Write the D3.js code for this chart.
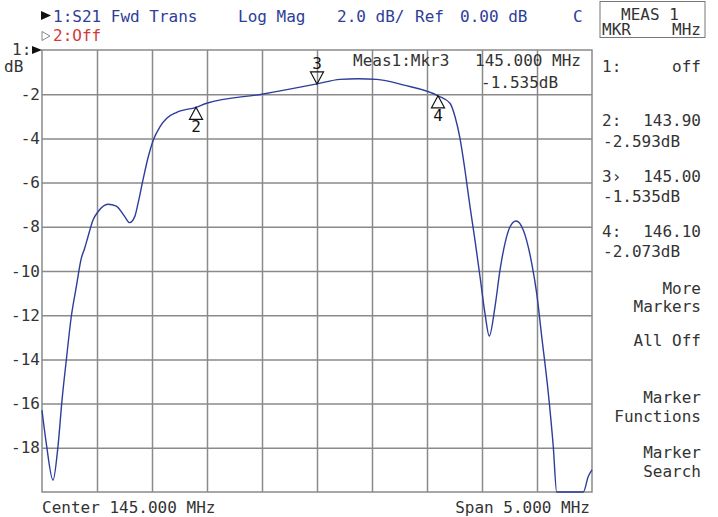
<!DOCTYPE html>
<html>
<head>
<meta charset="utf-8">
<script src="https://cdn.jsdelivr.net/npm/d3@7"></script>
<style>
  body { margin: 0; background: #fff; }
  svg { display: block; }
  text { font-family: "DejaVu Sans Mono", "Liberation Mono", monospace; font-size: 16px; }
</style>
</head>
<body>
<svg id="vna" width="718" height="517"></svg>
<script>
// trace S21 (MHz, dB)
const freqMHz = [142.500, 142.539, 142.600, 142.645, 142.682, 142.721, 142.766, 142.812, 142.857, 142.888,
  142.918, 142.964, 143.009, 143.100, 143.175, 143.252, 143.297, 143.343, 143.373, 143.418,
  143.466, 143.512, 143.573, 143.634, 143.725, 143.900, 143.997, 144.512, 145.000, 145.209,
  145.373, 145.543, 145.782, 146.100, 146.209, 146.255, 146.300, 146.345, 146.391, 146.436,
  146.482, 146.527, 146.566, 146.618, 146.664, 146.709, 146.755, 146.809, 146.875, 146.952,
  146.997, 147.043, 147.103, 147.148, 147.179, 147.421, 147.466, 147.500];
const s21dB = [-16.3, -17.8, -19.46, -17.95, -15.84, -14.03, -12.07, -10.71, -9.43, -8.97,
  -8.45, -7.69, -7.32, -6.98, -7.06, -7.54, -7.81, -7.54, -6.94, -5.88,
  -4.83, -4.07, -3.47, -3.09, -2.82, -2.593, -2.41, -1.99, -1.535, -1.33,
  -1.30, -1.33, -1.58, -2.073, -2.41, -3.02, -4.0, -5.43, -7.09, -8.6,
  -10.26, -11.92, -12.94, -11.62, -9.95, -8.75, -8.0, -7.74, -8.14, -9.65,
  -11.0, -12.97, -15.54, -17.95, -20.3, -20.3, -19.3, -19.0];

const yTicks = [-2, -4, -6, -8, -10, -12, -14, -16, -18];
const xGrid = [143.0, 143.5, 144.0, 144.5, 145.0, 145.5, 146.0, 146.5, 147.0];

const markerIds = ["2", "3", "4"];
const markerFreqs = [143.90, 145.00, 146.10];
const markerVals = [-2.593, -1.535, -2.073];
const activeMarker = "3";

const margin = {top: 50, right: 126, bottom: 25, left: 42},
  width = 718 - margin.left - margin.right,
  height = 517 - margin.top - margin.bottom;

const svg = d3.select("#vna");
const g = svg.append("g")
  .attr("transform", "translate(" + margin.left + "," + margin.top + ")");

const x = d3.scaleLinear().domain([142.5, 147.5]).range([0, width]);
const y = d3.scaleLinear().domain([-20, 0]).range([height, 0]).clamp(true);

const gridColor = "#8a8a8a";
const blue = "#2e3d9a";

// horizontal grid + labels
const yAxis = g.append("g")
  .call(d3.axisLeft(y).tickValues(yTicks).tickSize(-width).tickPadding(2).tickFormat(d => String(d)));
yAxis.select(".domain").remove();
yAxis.selectAll(".tick line").attr("stroke", gridColor).attr("stroke-width", 1.5);
yAxis.selectAll(".tick text")
  .attr("fill", "#333")
  .style("font-size", "16px")
  .style("font-family", "DejaVu Sans Mono, monospace");

// vertical grid
const xAxis = g.append("g")
  .attr("transform", "translate(0," + height + ")")
  .call(d3.axisBottom(x).tickValues(xGrid).tickSize(-height).tickFormat(""));
xAxis.select(".domain").remove();
xAxis.selectAll(".tick line").attr("stroke", gridColor).attr("stroke-width", 1.5);

g.append("rect")
  .attr("x", 0).attr("y", 0)
  .attr("width", width).attr("height", height)
  .attr("fill", "none")
  .attr("stroke", gridColor)
  .attr("stroke-width", 1.5);

// trace
const trace = d3.zip(freqMHz, s21dB);
const line = d3.line()
  .x(d => x(d[0]))
  .y(d => y(d[1]))
  .curve(d3.curveMonotoneX);

g.append("path")
  .datum(trace)
  .attr("d", line)
  .attr("fill", "none")
  .attr("stroke", blue)
  .attr("stroke-width", 1.4);

// markers
const tri = 6.5, triH = 12;
markerIds.forEach((id, i) => {
  const mx = x(markerFreqs[i]), my = y(markerVals[i]);
  const m = g.append("g");
  if (id === activeMarker) {
    m.append("path")
      .attr("d", `M${mx},${my} L${mx - tri},${my - triH} L${mx + tri},${my - triH} Z`)
      .attr("fill", "none").attr("stroke", "#111").attr("stroke-width", 1.2);
    m.append("text")
      .attr("x", mx).attr("y", my - triH - 3)
      .attr("text-anchor", "middle").attr("fill", "#111")
      .text(id);
  } else {
    m.append("path")
      .attr("d", `M${mx},${my} L${mx - tri},${my + triH} L${mx + tri},${my + triH} Z`)
      .attr("fill", "none").attr("stroke", "#111").attr("stroke-width", 1.2);
    m.append("text")
      .attr("x", mx).attr("y", my + triH + 13)
      .attr("text-anchor", "middle").attr("fill", "#111")
      .text(id);
  }
});

// active marker readout inside the grid
svg.append("text").attr("x", 353).attr("y", 66).attr("fill", "#333").text("Meas1:Mkr3");
svg.append("text").attr("x", 581).attr("y", 66).attr("text-anchor", "end").attr("fill", "#333").text("145.000 MHz");
svg.append("text").attr("x", 481).attr("y", 88).attr("fill", "#333").text("-1.535dB");

// header
svg.append("path").attr("d", "M41,11 L51,15.5 L41,20 Z").attr("fill", "#111");
const header = [[53, "1:S21 Fwd Trans"], [238, "Log Mag"], [337, "2.0 dB/"], [415, "Ref"], [460, "0.00 dB"], [573, "C"]];
header.forEach(h => {
  svg.append("text").attr("x", h[0]).attr("y", 21.5).attr("fill", blue).text(h[1]);
});
svg.append("path").attr("d", "M42,31.5 L50,36 L42,40.5 Z").attr("fill", "none").attr("stroke", "#888").attr("stroke-width", 1);
svg.append("text").attr("x", 53).attr("y", 41).attr("fill", "#d23a3a").text("2:Off");

// reference level marker on the left
svg.append("text").attr("x", 12).attr("y", 55).attr("fill", "#333").text("1:");
svg.append("path").attr("d", "M32,46 L42,50 L32,54 Z").attr("fill", "#111");
svg.append("text").attr("x", 4).attr("y", 71.5).attr("fill", "#333").text("dB");

// footer
svg.append("text").attr("x", 42).attr("y", 513).attr("fill", "#333").text("Center 145.000 MHz");
svg.append("text").attr("x", 590).attr("y", 513).attr("text-anchor", "end").attr("fill", "#333").text("Span 5.000 MHz");

// softkey panel
svg.append("rect").attr("x", 600).attr("y", 1.5).attr("width", 105).attr("height", 36)
  .attr("fill", "none").attr("stroke", "#777").attr("stroke-width", 1);
svg.append("text").attr("x", 621).attr("y", 20).attr("fill", "#333").text("MEAS 1");
svg.append("text").attr("x", 602).attr("y", 35).attr("fill", "#333").text("MKR");
svg.append("text").attr("x", 701).attr("y", 35).attr("text-anchor", "end").attr("fill", "#333").text("MHz");

const panelLeft = [[72, "1:"], [126, "2:"], [182, "3›"], [237, "4:"]];
const panelRight = [[72, "off"], [126, "143.90"], [182, "145.00"], [237, "146.10"]];
const panelVals = [[147, "-2.593dB"], [202, "-1.535dB"], [257, "-2.073dB"]];
const softkeys = [[294, "More"], [312, "Markers"], [346, "All Off"], [403, "Marker"], [422, "Functions"], [458, "Marker"], [477, "Search"]];

panelLeft.forEach(p => svg.append("text").attr("x", 602).attr("y", p[0]).attr("fill", "#333").text(p[1]));
panelRight.forEach(p => svg.append("text").attr("x", 701).attr("y", p[0]).attr("text-anchor", "end").attr("fill", "#333").text(p[1]));
panelVals.forEach(p => svg.append("text").attr("x", 603).attr("y", p[0]).attr("fill", "#333").text(p[1]));
softkeys.forEach(p => svg.append("text").attr("x", 701).attr("y", p[0]).attr("text-anchor", "end").attr("fill", "#333").text(p[1]));
</script>
</body>
</html>
